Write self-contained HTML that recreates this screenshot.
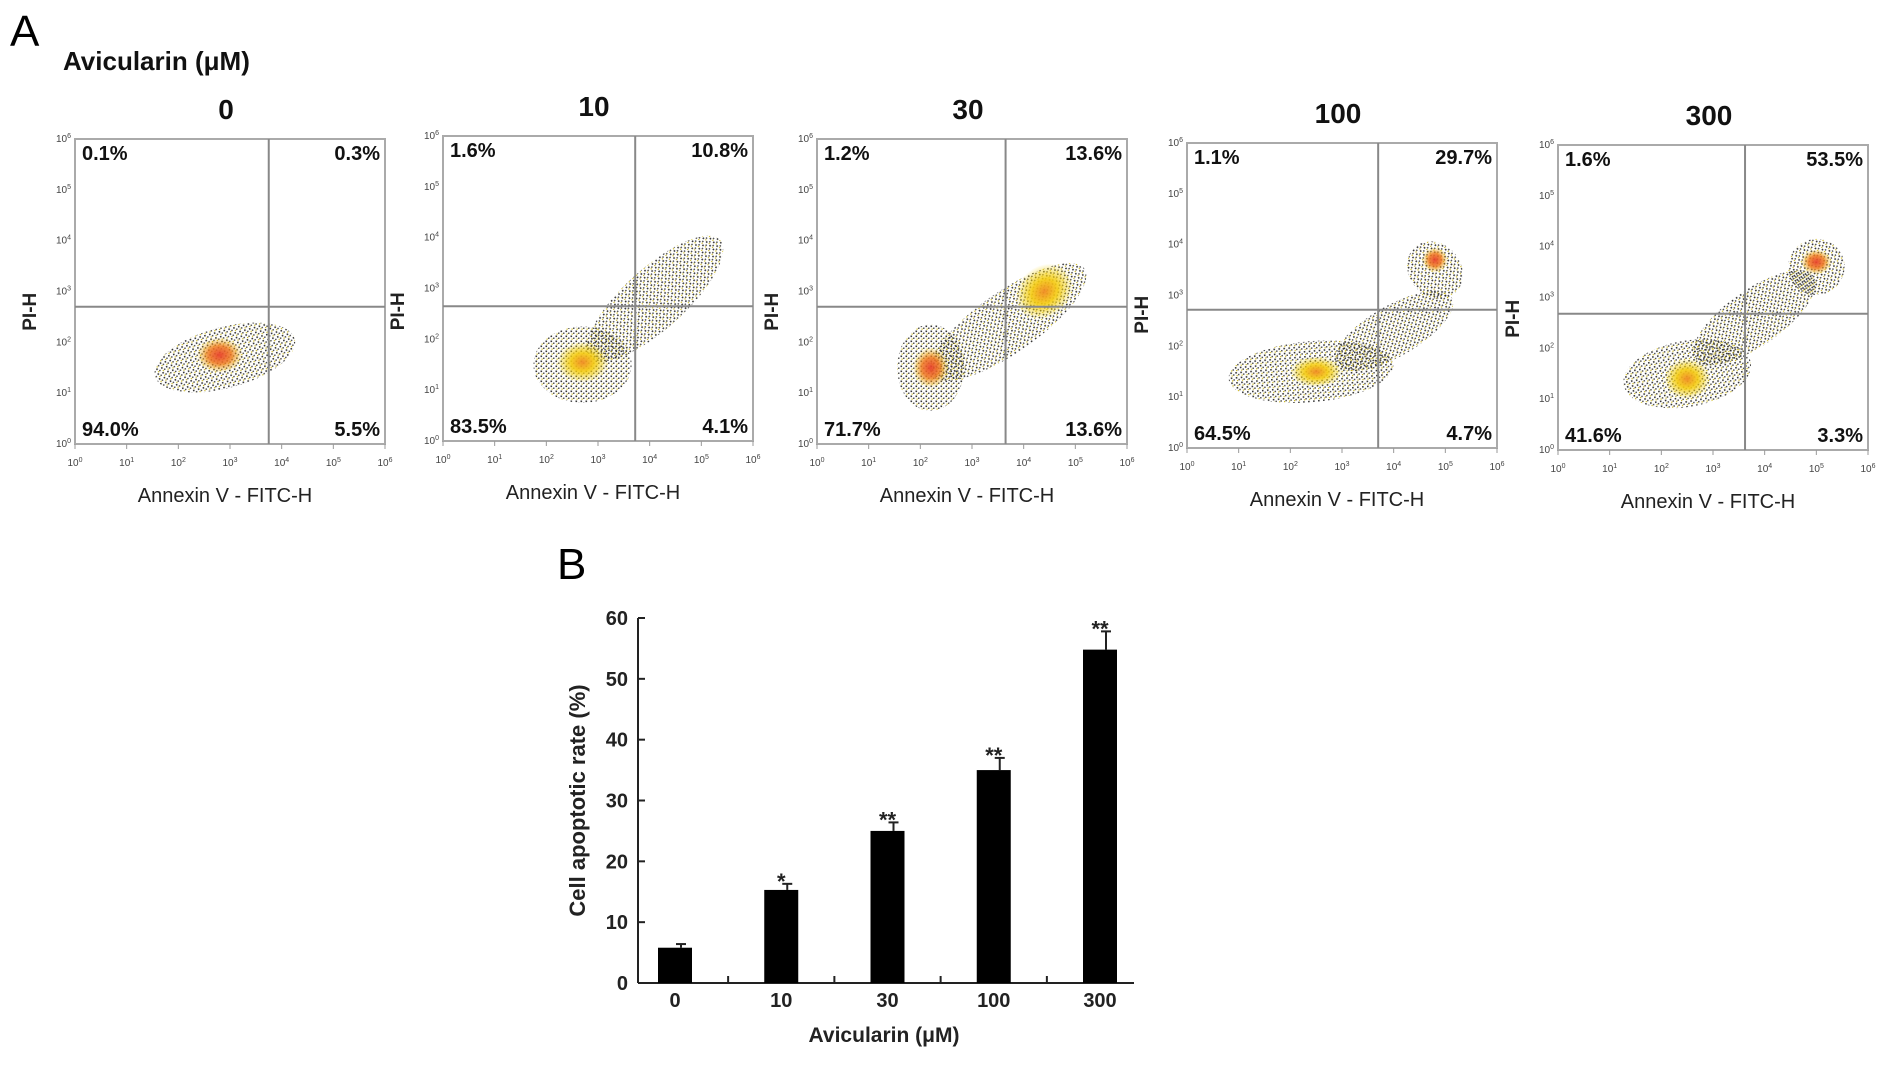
<!DOCTYPE html>
<html><head><meta charset="utf-8">
<style>
html,body{margin:0;padding:0;background:#fff;}
body{width:1890px;height:1067px;overflow:hidden;font-family:"Liberation Sans",Arial,sans-serif;}
</style></head>
<body>
<svg id="fig" width="1890" height="1067" viewBox="0 0 1890 1067" xmlns="http://www.w3.org/2000/svg">
<defs>
<pattern id="speck" width="5" height="5" patternUnits="userSpaceOnUse">
<rect x="0.5" y="0.5" width="1.6" height="1.6" fill="#222"/>
<rect x="3" y="2.5" width="1.5" height="1.5" fill="#444"/>
<rect x="1.5" y="3.5" width="1.2" height="1.2" fill="#c9b000"/>
</pattern>
<radialGradient id="coreRed"><stop offset="0" stop-color="#e8402a"/><stop offset="0.5" stop-color="#f07a20" stop-opacity="0.9"/><stop offset="1" stop-color="#f0c000" stop-opacity="0"/></radialGradient>
<radialGradient id="coreYel"><stop offset="0" stop-color="#f08a20"/><stop offset="0.45" stop-color="#f5cc10" stop-opacity="0.95"/><stop offset="1" stop-color="#f0d000" stop-opacity="0"/></radialGradient>
</defs>
<text x="10" y="46" font-size="44" fill="#000">A</text>
<text x="63" y="70" font-size="26" font-weight="bold" fill="#111">Avicularin (μM)</text>
<text x="557" y="579" font-size="44" fill="#000">B</text>
<g id="flow"></g>
<g id="bars"></g>
</svg>
<script>
// ---- Flow cytometry panels ----
const doses = ["0","10","30","100","300"];
const quadUL = ["0.1%","1.6%","1.2%","1.1%","1.6%"];
const quadUR = ["0.3%","10.8%","13.6%","29.7%","53.5%"];
const quadLL = ["94.0%","83.5%","71.7%","64.5%","41.6%"];
const quadLR = ["5.5%","4.1%","13.6%","4.7%","3.3%"];
const gateX = [3.75,3.72,3.65,3.7,3.62];
const gateY = [2.7,2.65,2.7,2.72,2.68];
// clusters: [x decade, y decade, rx, ry, rotation, type]
const clusters = [
 [[2.9,1.7,1.4,0.6,-15,"cloud"],[2.8,1.75,0.45,0.35,0,"red"]],
 [[2.7,1.5,0.95,0.75,0,"cloud"],[4.1,2.8,1.7,0.6,-42,"cloud"],[2.7,1.55,0.5,0.4,0,"yel"]],
 [[2.2,1.5,0.65,0.85,0,"cloud"],[3.7,2.4,1.8,0.6,-35,"cloud"],[2.2,1.5,0.35,0.4,0,"red"],[4.4,3.0,0.6,0.5,-40,"yel"]],
 [[2.4,1.5,1.6,0.6,-5,"cloud"],[4.0,2.3,1.3,0.5,-30,"cloud"],[4.8,3.5,0.5,0.6,-40,"cloud"],[2.5,1.5,0.5,0.3,0,"yel"],[4.8,3.7,0.25,0.25,0,"red"]],
 [[2.5,1.5,1.25,0.65,-10,"cloud"],[3.8,2.6,1.4,0.55,-35,"cloud"],[5.0,3.6,0.55,0.55,-35,"cloud"],[2.5,1.4,0.45,0.4,0,"yel"],[5.0,3.7,0.3,0.25,0,"red"]]
];
const boxX = [75,443,817,1187,1558];
const boxY = [139,136,139,143,145];
const BW = 310, BH = 305;
const NS = "http://www.w3.org/2000/svg";
function mk(tag, attrs, parent){const e=document.createElementNS(NS,tag);for(const k in attrs)e.setAttribute(k,attrs[k]);parent.appendChild(e);return e;}
const flow = document.getElementById('flow');
doses.forEach((d,i)=>{
  const x0=boxX[i], y0=boxY[i];
  const sx = v => x0 + v/6*BW;
  const sy = v => y0 + BH - v/6*BH;
  const g = mk('g',{},flow);
  
  
  const t = mk('text',{x:x0+BW/2-4,y:y0-20,'font-size':28,'font-weight':'bold','text-anchor':'middle',fill:'#111'},g);
  t.textContent=d;
  
  
  clusters[i].forEach(c=>{
    const cx=sx(c[0]), cy=sy(c[1]), rx=c[2]/6*BW, ry=c[3]/6*BH;
    let fill = c[5]==="cloud" ? "url(#speck)" : (c[5]==="red" ? "url(#coreRed)" : "url(#coreYel)");
    const e = mk('ellipse',{cx:cx,cy:cy,rx:rx,ry:ry,fill:fill,opacity:c[5]==="cloud"?0.9:0.95,transform:`rotate(${c[4]} ${cx} ${cy})`},g);
    
    
  });
  const b = mk('rect',{x:x0,y:y0,width:BW,height:BH,fill:'none',stroke:'#aaa','stroke-width':2},g);
  
  
  const gv = mk('line',{x1:sx(gateX[i]),x2:sx(gateX[i]),y1:y0,y2:y0+BH,stroke:'#888','stroke-width':2},g);
  
  
  const gh = mk('line',{x1:x0,x2:x0+BW,y1:sy(gateY[i]),y2:sy(gateY[i]),stroke:'#888','stroke-width':2},g);
  
  
  for(let k=0;k<=6;k++){
    const ty = mk('text',{x:x0-4,y:sy(k)+3,'font-size':10,'text-anchor':'end',fill:'#444'},g);
    ty.innerHTML='10<tspan dy="-4" font-size="7">'+k+'</tspan>';
    
    
    const tx = mk('text',{x:sx(k),y:y0+BH+22,'font-size':10,'text-anchor':'middle',fill:'#444'},g);
    tx.innerHTML='10<tspan dy="-4" font-size="7">'+k+'</tspan>';
    
    
    mk('line',{x1:sx(k),x2:sx(k),y1:y0+BH,y2:y0+BH+5,stroke:'#999'},g);
  }
  const ql=[[quadUL[i],x0+7,y0+21,'start'],[quadUR[i],x0+BW-5,y0+21,'end'],[quadLL[i],x0+7,y0+BH-8,'start'],[quadLR[i],x0+BW-5,y0+BH-8,'end']];
  ql.forEach(q=>{
    const e=mk('text',{x:q[1],y:q[2],'font-size':20,'font-weight':'bold','text-anchor':q[3],fill:'#111'},g);
    e.textContent=q[0];
    
    
  });
  const yl = mk('text',{x:0,y:0,'font-size':19,'font-weight':'bold',fill:'#222','text-anchor':'middle',transform:`translate(${x0-39} ${sy(gateY[i])+5}) rotate(-90)`},g);
  yl.textContent='PI-H';
  
  
  const xl = mk('text',{x:x0+BW/2-5,y:y0+BH+58,'font-size':20,fill:'#222','text-anchor':'middle'},g);
  xl.textContent='Annexin V - FITC-H';
  
  
});

// ---- Bar chart ----
const categories = ["0","10","30","100","300"];
const rates = [5.8, 15.3, 25.0, 35.0, 54.8];
const errors = [0.6, 1.0, 1.4, 2.0, 3.0];
const stars = ["","*","**","**","**"];
const yTicks = [0,10,20,30,40,50,60];
const AX0=638, AX1=1134, AY0=983, AY1=618, YMAX=60;
const PADL=37, PADR=34;
const ys = v => AY0 - v/YMAX*(AY0-AY1);
const xs = i => AX0 + PADL + i*((AX1-PADR)-(AX0+PADL))/(categories.length-1);
const bg = document.getElementById('bars');
const ya = mk('line',{x1:AX0,x2:AX0,y1:AY1,y2:AY0,stroke:'#222','stroke-width':2},bg);


const xa = mk('line',{x1:AX0,x2:AX1,y1:AY0,y2:AY0,stroke:'#222','stroke-width':2},bg);


yTicks.forEach(v=>{
  mk('line',{x1:AX0,x2:AX0+7,y1:ys(v),y2:ys(v),stroke:'#222','stroke-width':2},bg);
  const t=mk('text',{x:AX0-10,y:ys(v)+7,'font-size':20,'font-weight':'bold','text-anchor':'end',fill:'#222'},bg);
  t.textContent=v;
  
  
});
for(let i=1;i<categories.length;i++){
  const x = (xs(i-1)+xs(i))/2;
  mk('line',{x1:x,x2:x,y1:AY0,y2:AY0-7,stroke:'#222','stroke-width':2},bg);
}
categories.forEach((c,i)=>{
  const cx=xs(i), bw=34;
  const el=mk('line',{x1:cx+6,x2:cx+6,y1:ys(rates[i]),y2:ys(rates[i]+errors[i]),stroke:'#222','stroke-width':2},bg);
  
  
  mk('line',{x1:cx+1,x2:cx+11,y1:ys(rates[i]+errors[i]),y2:ys(rates[i]+errors[i]),stroke:'#222','stroke-width':2},bg);
  const r=mk('rect',{x:cx-bw/2,y:ys(rates[i]),width:bw,height:AY0-ys(rates[i]),fill:'#000'},bg);
  
  
  if(stars[i]){
    const s=mk('text',{x:cx,y:ys(rates[i]+errors[i])+5,'font-size':22,'font-weight':'bold','text-anchor':'middle',fill:'#222'},bg);
    s.textContent=stars[i];
    
    
  }
  const t=mk('text',{x:cx,y:AY0+24,'font-size':20,'font-weight':'bold','text-anchor':'middle',fill:'#222'},bg);
  t.textContent=c;
  
  
});
const xt=mk('text',{x:(AX0+AX1)/2-2,y:1042,'font-size':21,'font-weight':'bold','text-anchor':'middle',fill:'#222'},bg);
xt.textContent='Avicularin (μM)';


const yt=mk('text',{x:0,y:0,'font-size':22,'font-weight':'bold','text-anchor':'middle',fill:'#222',transform:`translate(585 ${(AY0+AY1)/2}) rotate(-90)`},bg);
yt.textContent='Cell apoptotic  rate (%)';


</script>
</body></html>
